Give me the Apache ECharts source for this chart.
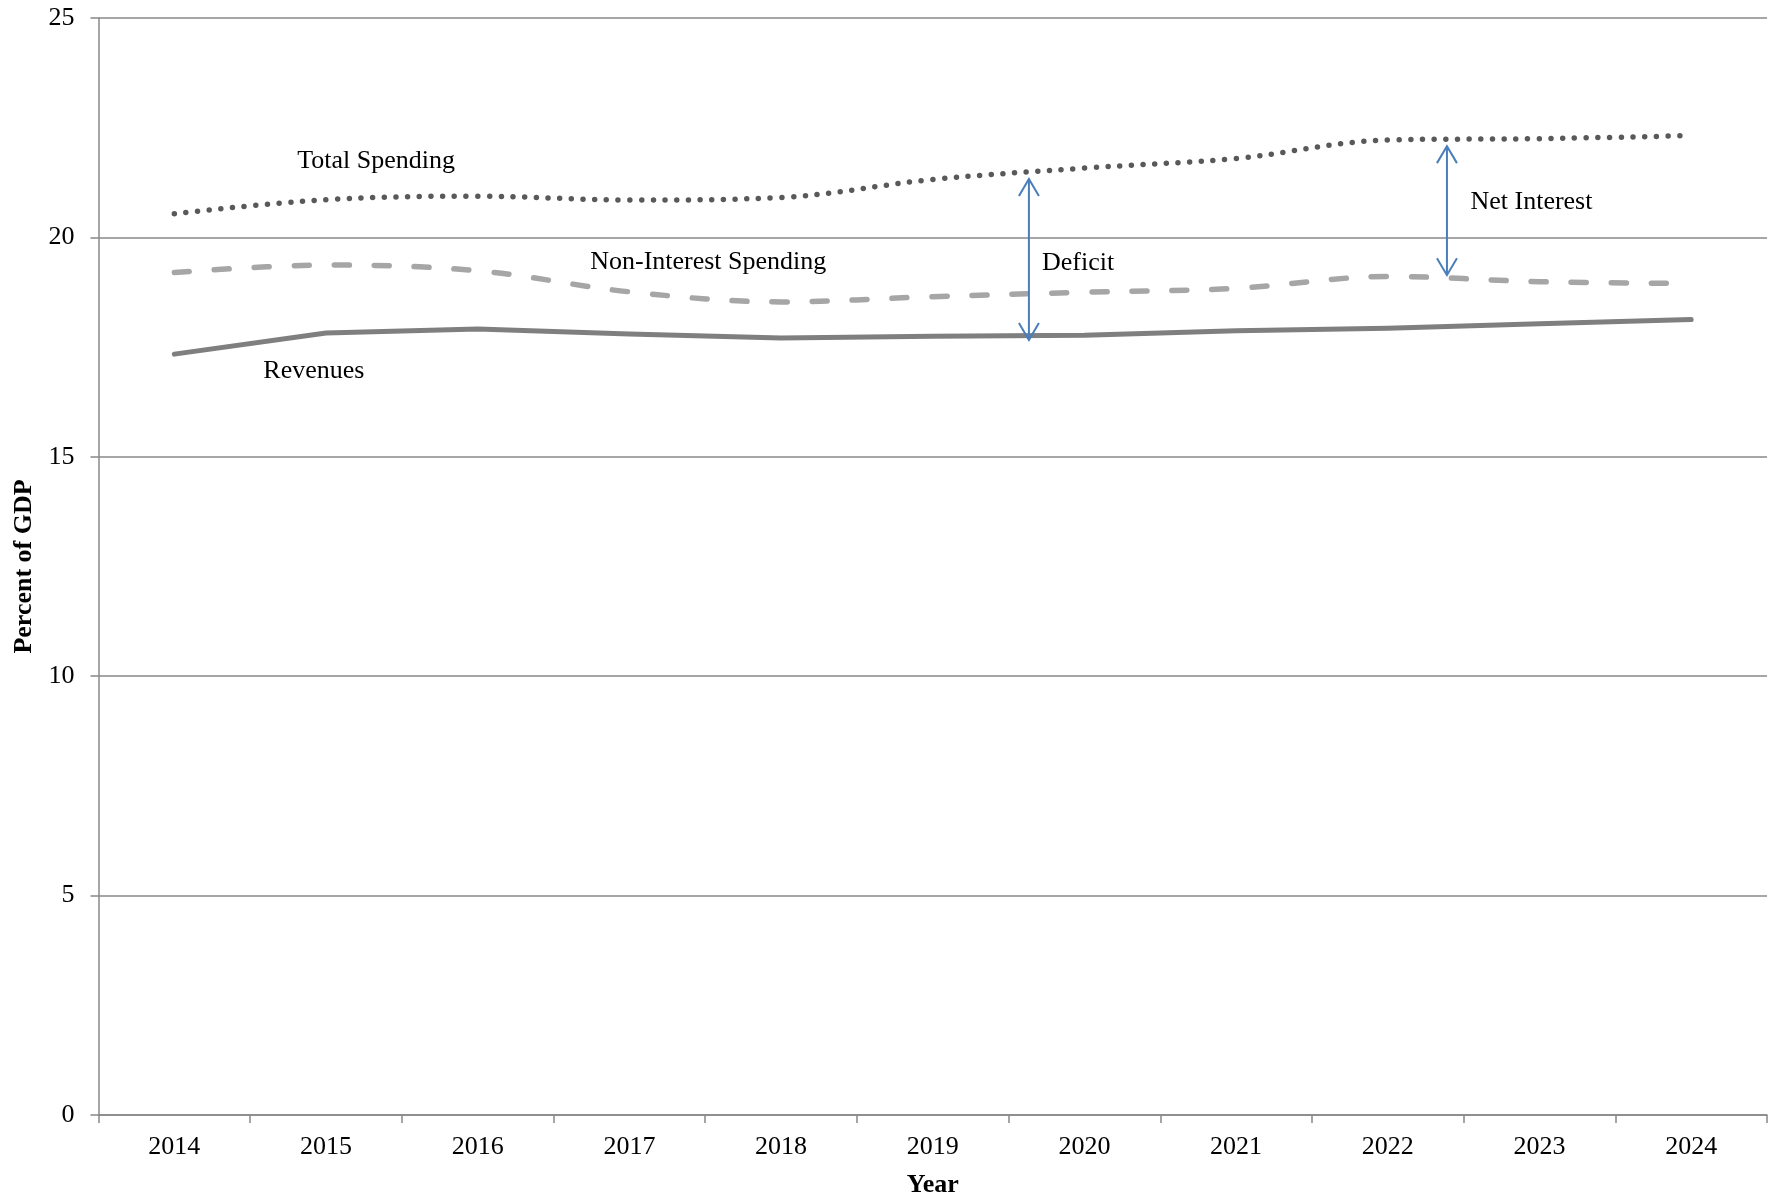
<!DOCTYPE html>
<html><head><meta charset="utf-8">
<script src="https://cdn.jsdelivr.net/npm/echarts@6/dist/echarts.min.js"></script>
<style>html,body{margin:0;padding:0;background:#fff}#c{width:1775px;height:1201px}</style>
</head><body><div id="c"></div>
<script>
const years = ['2014','2015','2016','2017','2018','2019','2020','2021','2022','2023','2024'];
const totalSpending = [20.54, 20.86, 20.94, 20.85, 20.91, 21.32, 21.58, 21.80, 22.22, 22.25, 22.32];
const nonInterestSpending = [19.20, 19.37, 19.24, 18.76, 18.53, 18.65, 18.75, 18.84, 19.11, 18.99, 18.95];
const revenues = [17.34, 17.82, 17.91, 17.80, 17.71, 17.75, 17.77, 17.87, 17.93, 18.03, 18.13];
const yTicks = [0, 5, 10, 15, 20, 25];

// annotation arrows: [category position, top value, bottom value]
const arrows = [[5.634, 21.33, 17.66], [8.39, 22.08, 19.14]];
// annotation texts: [category position, value]
const labelPos = [[1.33, 21.80], [3.52, 19.50], [0.92, 17.03], [5.72, 19.49], [8.545, 20.88]];
const labelText = ['Total Spending', 'Non-Interest Spending', 'Revenues', 'Deficit', 'Net Interest'];
const labelAlign = ['center', 'center', 'center', 'left', 'left'];

const FONT = '"Liberation Serif","Times New Roman",serif';
const GRID = '#888888';
const chart = echarts.init(document.getElementById('c'), null, {renderer: 'canvas'});
const option = {
  animation: false,
  backgroundColor: '#ffffff',
  grid: {left: 98.5, right: 8, top: 18, bottom: 86, containLabel: false, outerBoundsMode: 'none'},
  xAxis: [{
    type: 'category', data: years, boundaryGap: true,
    axisLine: {show: true, onZero: false, lineStyle: {color: GRID, width: 1.5}},
    axisTick: {show: true, length: 8, lineStyle: {color: GRID, width: 1.5}},
    axisLabel: {color: '#000', fontFamily: FONT, fontSize: 26, margin: 19},
    splitLine: {show: false},
    name: 'Year', nameLocation: 'middle', nameGap: 57,
    nameTextStyle: {color: '#000', fontFamily: FONT, fontSize: 26, fontWeight: 'bold'}
  }, {
    type: 'value', min: -0.5, max: 10.5, show: false
  }],
  yAxis: {
    type: 'value', min: yTicks[0], max: yTicks[yTicks.length - 1], interval: 5,
    axisLine: {show: true, onZero: false, lineStyle: {color: GRID, width: 1.5}},
    axisTick: {show: true, length: 8, lineStyle: {color: GRID, width: 1.5}},
    axisLabel: {color: '#000', fontFamily: FONT, fontSize: 26, margin: 24},
    splitLine: {show: true, lineStyle: {color: GRID, width: 1.5}},
    name: 'Percent of GDP', nameLocation: 'middle', nameGap: 58, nameRotate: 90,
    nameTextStyle: {color: '#000', fontFamily: FONT, fontSize: 26, fontWeight: 'bold'}
  },
  series: [
    {
      name: 'Revenues', type: 'line', data: revenues, symbol: 'none', smooth: false,
      lineStyle: {color: '#7f7f7f', width: 5, cap: 'round', join: 'round'}, z: 3
    },
    {
      name: 'Non-Interest Spending', type: 'line', data: nonInterestSpending, symbol: 'none', smooth: 0.35,
      lineStyle: {color: '#a6a6a6', width: 5.5, type: [15, 25], cap: 'round'}, z: 3
    },
    {
      name: 'Total Spending', type: 'line', data: totalSpending, symbol: 'none', smooth: 0.35,
      lineStyle: {color: '#595959', width: 5.5, type: [0, 11.7], cap: 'round'}, z: 3
    },
    {
      type: 'custom', xAxisIndex: 1, yAxisIndex: 0, data: arrows, z: 5,
      renderItem: function (params, api) {
        const x = api.value(0);
        const p1 = api.coord([x, api.value(1)]);
        const p2 = api.coord([x, api.value(2)]);
        const hw = 10, hl = 17;
        const st = {stroke: '#4a7ebb', lineWidth: 2, fill: null};
        return {type: 'group', children: [
          {type: 'line', shape: {x1: p1[0], y1: p1[1], x2: p2[0], y2: p2[1]}, style: st},
          {type: 'polyline', shape: {points: [[p1[0] - hw, p1[1] + hl], [p1[0], p1[1]], [p1[0] + hw, p1[1] + hl]]}, style: st},
          {type: 'polyline', shape: {points: [[p2[0] - hw, p2[1] - hl], [p2[0], p2[1]], [p2[0] + hw, p2[1] - hl]]}, style: st}
        ]};
      }
    },
    {
      type: 'custom', xAxisIndex: 1, yAxisIndex: 0, data: labelPos, z: 6,
      renderItem: function (params, api) {
        const p = api.coord([api.value(0), api.value(1)]);
        return {type: 'text', x: p[0], y: p[1] + 3, style: {
          text: labelText[params.dataIndex], fill: '#000', fontFamily: FONT, fontSize: 26,
          align: labelAlign[params.dataIndex], verticalAlign: 'middle'
        }};
      }
    }
  ]
};
chart.setOption(option);
</script>
</body></html>
